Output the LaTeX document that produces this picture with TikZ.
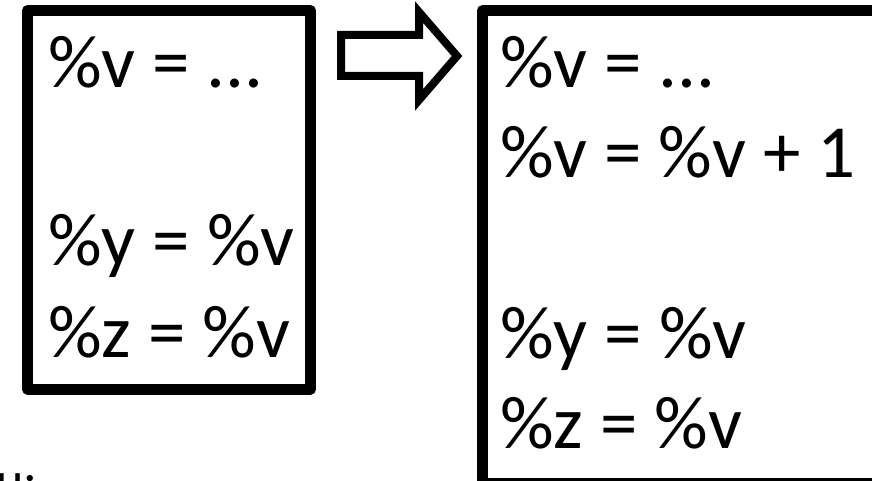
\documentclass[tikz,border=0pt]{standalone}
\usepackage{fontspec}
\setmainfont{Carlito}
\usetikzlibrary{positioning}

\begin{document}
\begin{tikzpicture}[x=1pt, y=-1pt,
    codebox/.style={rectangle, draw, line width=11pt, line join=round, inner sep=0pt, outer sep=0pt},
    codeline/.style={anchor=base west, inner sep=0pt, font=\fontsize{75}{90}\selectfont}]
            \useasboundingbox (0,0) rectangle (872,481);
            \clip (0,0) rectangle (872,481);

            % before
            \node[codebox, anchor=north west, minimum width=283pt, minimum height=378.5pt] (before) at (27.5,10.5) {};
            \node[codeline] (b1) at (48,88) {\%v = ...};
            \node[codeline] (b2) at (48,265) {\%y = \%v};
            \node[codeline] (b3) at (48,357) {\%z = \%v};

            % after
            \node[codebox, anchor=north west, minimum width=394.5pt, minimum height=473pt] (after) at (482.5,10.5) {};
            \node[codeline] (a1) at (500,88) {\%v = ...};
            \node[codeline] (a2) at (500,178) {\%v = \%v + 1};
            \node[codeline] (a3) at (500,358) {\%y = \%v};
            \node[codeline] (a4) at (500,448) {\%z = \%v};

            % block arrow between the two boxes
            \draw[line width=8pt, miter limit=4] (341,35) -- (419,35) -- (419,12) -- (457,56) -- (419,100) -- (419,76) -- (341,76) -- cycle;

            \node[anchor=base west, inner sep=0pt, font=\fontsize{52}{60}\selectfont] (frag) at (-4,498) {u:};
        \end{tikzpicture}
\end{document}
